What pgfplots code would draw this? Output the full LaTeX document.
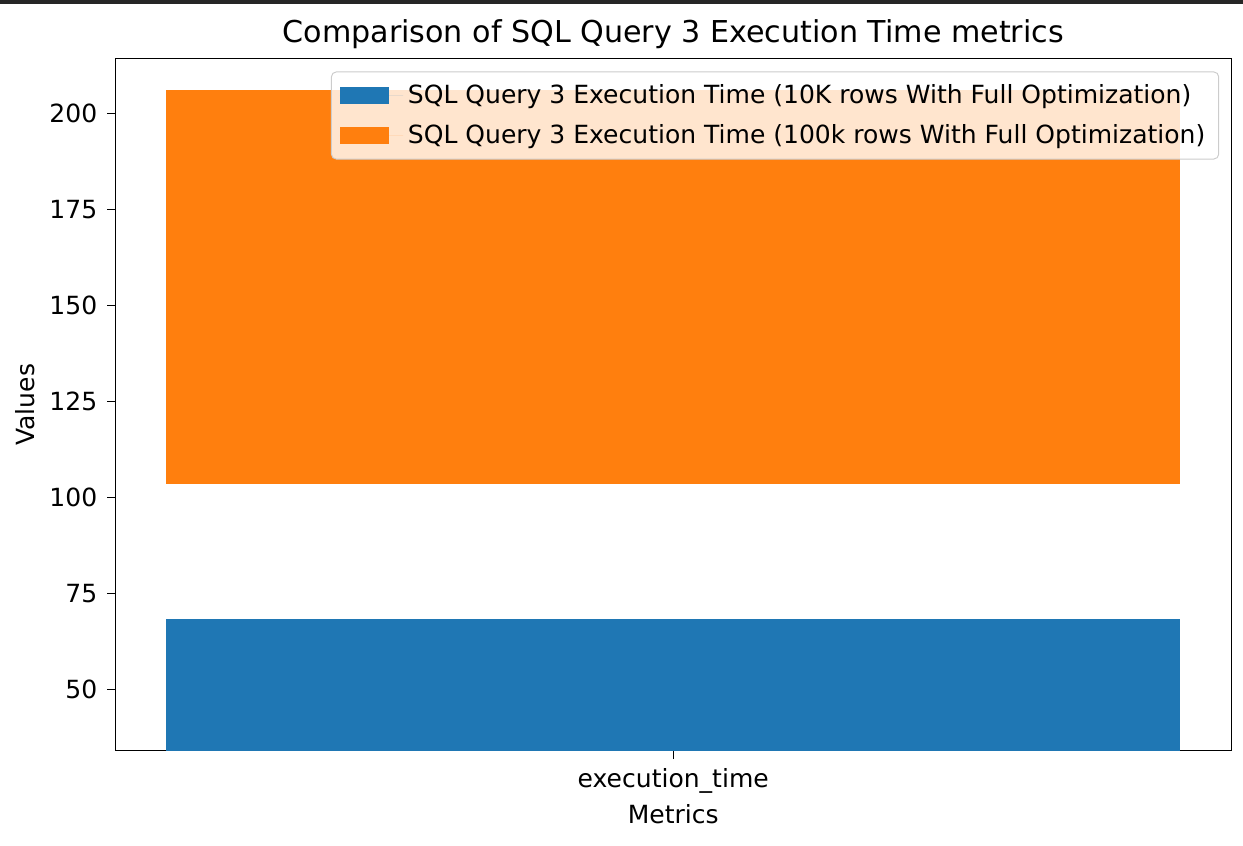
\documentclass[border=0pt]{standalone}
\usepackage{fontspec}
\setmainfont{DejaVu Sans}
\usepackage{pgfplots}
\pgfplotsset{compat=1.18}
\definecolor{mplblue}{HTML}{1F77B4}
\definecolor{mplorange}{HTML}{FF7F0E}
\begin{document}
\begin{tikzpicture}
\begin{axis}[
  at={(0,0)}, anchor=south west,
  scale only axis,
  width=459.1pt, height=284.8pt,
  xmin=-0.44, xmax=0.44,
  ymin=34.1, ymax=214.3,
  xtick={0}, xticklabels={execution\_time},
  ytick={50,75,100,125,150,175,200},
  tick align=outside,
  major tick length=3.4pt,
  tick style={black, line width=0.4pt},
  xtick pos=bottom, ytick pos=left,
  axis line style={line width=0.4pt},
  /pgf/number format/assume math mode=true,
  tick label style={font=\fontsize{10.3}{12}\selectfont},
  xticklabel style={inner sep=0pt, anchor=base, yshift=-11.5pt},
  yticklabel style={inner sep=0pt, anchor=east, xshift=-3.9pt},
  xlabel={Metrics},
  ylabel={Values},
  label style={font=\fontsize{10.3}{12}\selectfont},
  xlabel style={at={(rel axis cs:0.5,0)}, anchor=base, yshift=-30pt, inner sep=0pt},
  ylabel style={at={(rel axis cs:0,0.5)}, anchor=center, yshift=37.2pt, inner sep=0pt},
  title={Comparison of SQL Query 3 Execution Time metrics},
  title style={font=\fontsize{12.4}{14}\selectfont, at={(rel axis cs:0.5,1)}, anchor=base, yshift=0.7pt, inner sep=0pt},
  legend cell align=left,
  legend style={
    at={(rel axis cs:1,1)}, anchor=north east, xshift=-4.9pt, yshift=-5.2pt,
    font=\fontsize{10.3}{12}\selectfont,
    fill=white, fill opacity=0.8, text opacity=1,
    draw=black!20, rounded corners=2pt,
    row sep=3.2pt, inner xsep=3.5pt, inner ysep=3pt,
  },
  legend image code/.code={%
    \fill[#1, sharp corners, fill opacity=1] (0pt,-0.35em) rectangle (2em,0.35em);
    \path (0pt,0pt) -- (2.6em,0pt);},
]
\addplot[fill=mplblue, draw=none] coordinates {(-0.4,34.1) (0.4,34.1) (0.4,68.4) (-0.4,68.4)} -- cycle;
\addlegendentry{SQL Query 3 Execution Time (10K rows With Full Optimization)}
\addplot[fill=mplorange, draw=none] coordinates {(-0.4,103.5) (0.4,103.5) (0.4,206.3) (-0.4,206.3)} -- cycle;
\addlegendentry{SQL Query 3 Execution Time (100k rows With Full Optimization)}
\end{axis}
\pgfresetboundingbox
\path (-47.5pt,-39.1pt) rectangle (464.0pt,309.0pt);
\fill[black!85] (-47.5pt,307.4pt) rectangle (464.0pt,309.0pt);
\end{tikzpicture}
\end{document}
